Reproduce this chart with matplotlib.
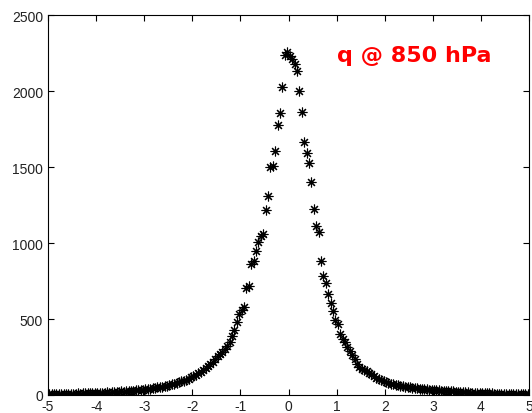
import numpy as np
import matplotlib
matplotlib.use('Agg')
import matplotlib.pyplot as plt

# bin centres, 0.05 wide, from -5 to 5
bin_centres = np.arange(-4.975, 5.0, 0.05)

# counts per bin (left to right, 10 bins per row)
counts = [
    6, 4, 7, 5, 8, 6, 5, 9, 7, 8,                       # -5.0 .. -4.5
    9, 8, 10, 9, 11, 10, 12, 11, 13, 12,                # -4.5 .. -4.0
    14, 13, 16, 15, 17, 16, 19, 18, 21, 20,             # -4.0 .. -3.5
    23, 22, 25, 27, 26, 29, 31, 30, 34, 36,             # -3.5 .. -3.0
    38, 40, 42, 45, 47, 50, 53, 55, 58, 62,             # -3.0 .. -2.5
    66, 70, 74, 79, 84, 89, 95, 101, 108, 116,          # -2.5 .. -2.0
    125, 133, 143, 153, 165, 178, 190, 205, 220, 238,   # -2.0 .. -1.5
    255, 268, 282, 300, 320, 350, 390, 425, 480, 535,   # -1.5 .. -1.0
    560, 580, 705, 720, 860, 880, 945, 1010, 1045, 1060,   # -1.0 .. -0.5
    1220, 1310, 1500, 1510, 1605, 1780, 1855, 2030, 2240, 2260,  # -0.5 .. 0
    2230, 2210, 2180, 2135, 2000, 1865, 1665, 1595, 1530, 1400,  # 0 .. 0.5
    1225, 1115, 1075, 885, 780, 740, 665, 608, 555, 495,   # 0.5 .. 1.0
    470, 400, 370, 350, 315, 290, 262, 237, 205, 182,   # 1.0 .. 1.5
    172, 165, 158, 145, 135, 125, 115, 105, 97, 90,     # 1.5 .. 2.0
    84, 78, 74, 70, 67, 64, 61, 58, 55, 52,             # 2.0 .. 2.5
    50, 48, 46, 44, 42, 40, 38, 37, 35, 34,             # 2.5 .. 3.0
    33, 31, 30, 29, 28, 26, 25, 24, 23, 22,             # 3.0 .. 3.5
    21, 20, 19, 18, 17, 16, 15, 14, 13, 13,             # 3.5 .. 4.0
    12, 11, 11, 10, 10, 9, 9, 8, 8, 8,                  # 4.0 .. 4.5
    7, 7, 6, 7, 6, 6, 5, 6, 5, 5,                       # 4.5 .. 5.0
]

x_ticks = [-5, -4, -3, -2, -1, 0, 1, 2, 3, 4, 5]
y_ticks = [0, 500, 1000, 1500, 2000, 2500]
label = 'q @ 850 hPa'

plt.rcParams['font.family'] = ['Liberation Sans', 'DejaVu Sans']
plt.rcParams['axes.unicode_minus'] = False

fig = plt.figure(figsize=(5.32, 4.14), dpi=100)
ax = fig.add_axes([0.0902, 0.0435, 0.9042, 0.9175])

ax.plot(bin_centres, counts, linestyle='none', marker=(8, 2, 0),
        markersize=7, markeredgewidth=0.8, color='black')

ax.set_xlim(-5, 5)
ax.set_ylim(0, 2500)
ax.set_xticks(x_ticks)
ax.set_yticks(y_ticks)
ax.tick_params(direction='in', length=4, top=True, right=True,
               labelsize=10, labelcolor='#222222', pad=3.5)
ax.tick_params(axis='x', pad=3)
for s in ax.spines.values():
    s.set_linewidth(0.8)

ax.text(1.01, 2200, label, color='#ff0000', fontsize=16, family='DejaVu Sans',
        fontweight='bold', va='baseline', ha='left')

fig.savefig('out.png', dpi=100)
